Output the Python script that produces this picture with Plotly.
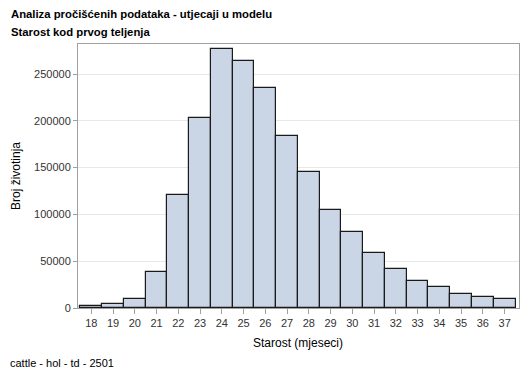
import plotly.graph_objects as go

ages = list(range(18, 38))
counts = [2100, 4700, 10000, 39000, 120400, 202900, 277100, 263500, 235600, 184200,
          145000, 104300, 80800, 58300, 41800, 29300, 22500, 15400, 12200, 9600]
y_ticks = [0, 50000, 100000, 150000, 200000, 250000]

title1 = "Analiza pročišćenih podataka - utjecaji u modelu"
title2 = "Starost kod prvog teljenja"
footnote = "cattle - hol - td - 2501"

font = "Liberation Sans, Arial, sans-serif"

# page has an 8px body margin; figure sized/placed to compensate
W, H = 521, 370
ML, MR, MT, MB = 70, 10, 36, 70
PW = W - ML - MR
PH = H - MT - MB


def px_x(page_x):
    return (page_x - 8 - ML) / PW


def px_y(page_y):
    return 1 - (page_y - 8 - MT) / PH


fig = go.Figure(go.Bar(
    x=ages, y=counts, width=1.0,
    marker=dict(color="#CAD5E5", line=dict(color="#1a1a1a", width=1.2)),
))

fig.update_layout(
    template="none",
    width=W, height=H,
    margin=dict(l=ML, r=MR, t=MT, b=MB, pad=0),
    paper_bgcolor="white", plot_bgcolor="white",
    font=dict(family=font, size=11, color="#333333"),
    showlegend=False,
    bargap=0,
    annotations=[
        dict(text="<b>" + title1 + "</b>", xref="paper", yref="paper",
             x=px_x(9), y=px_y(14), xanchor="left", yanchor="middle",
             showarrow=False, font=dict(size=11.3, color="black", family=font)),
        dict(text="<b>" + title2 + "</b>", xref="paper", yref="paper",
             x=px_x(9), y=px_y(32), xanchor="left", yanchor="middle",
             showarrow=False, font=dict(size=11.3, color="black", family=font)),
        dict(text=footnote, xref="paper", yref="paper",
             x=px_x(8), y=px_y(363), xanchor="left", yanchor="middle",
             showarrow=False, font=dict(size=11, color="black", family=font)),
        dict(text="Broj životinja", xref="paper", yref="paper",
             x=px_x(16), y=px_y(176), xanchor="center", yanchor="middle", textangle=-90,
             showarrow=False, font=dict(size=12, color="black", family=font)),
        dict(text="Starost (mjeseci)", xref="paper", yref="paper",
             x=px_x(298), y=px_y(343), xanchor="center", yanchor="middle",
             showarrow=False, font=dict(size=12, color="black", family=font)),
    ],
)

fig.update_xaxes(
    range=[17.39, 37.66], tickvals=ages, ticktext=[str(a) for a in ages],
    ticks="outside", ticklen=5, tickcolor="#A0A0A0",
    showline=True, linecolor="#A0A0A0", linewidth=1, mirror=True,
    showgrid=False, zeroline=False, automargin=False,
    tickfont=dict(size=11, color="#333333"),
)
fig.update_yaxes(
    range=[0, 282100], tickvals=y_ticks, ticktext=[str(v) for v in y_ticks],
    ticks="outside", ticklen=4, tickcolor="#A0A0A0",
    showline=True, linecolor="#A0A0A0", linewidth=1, mirror=True,
    showgrid=True, gridcolor="#E8E8E8", gridwidth=1, zeroline=False, automargin=False,
    tickfont=dict(size=11, color="#333333"),
)

fig.write_html("out.html")
